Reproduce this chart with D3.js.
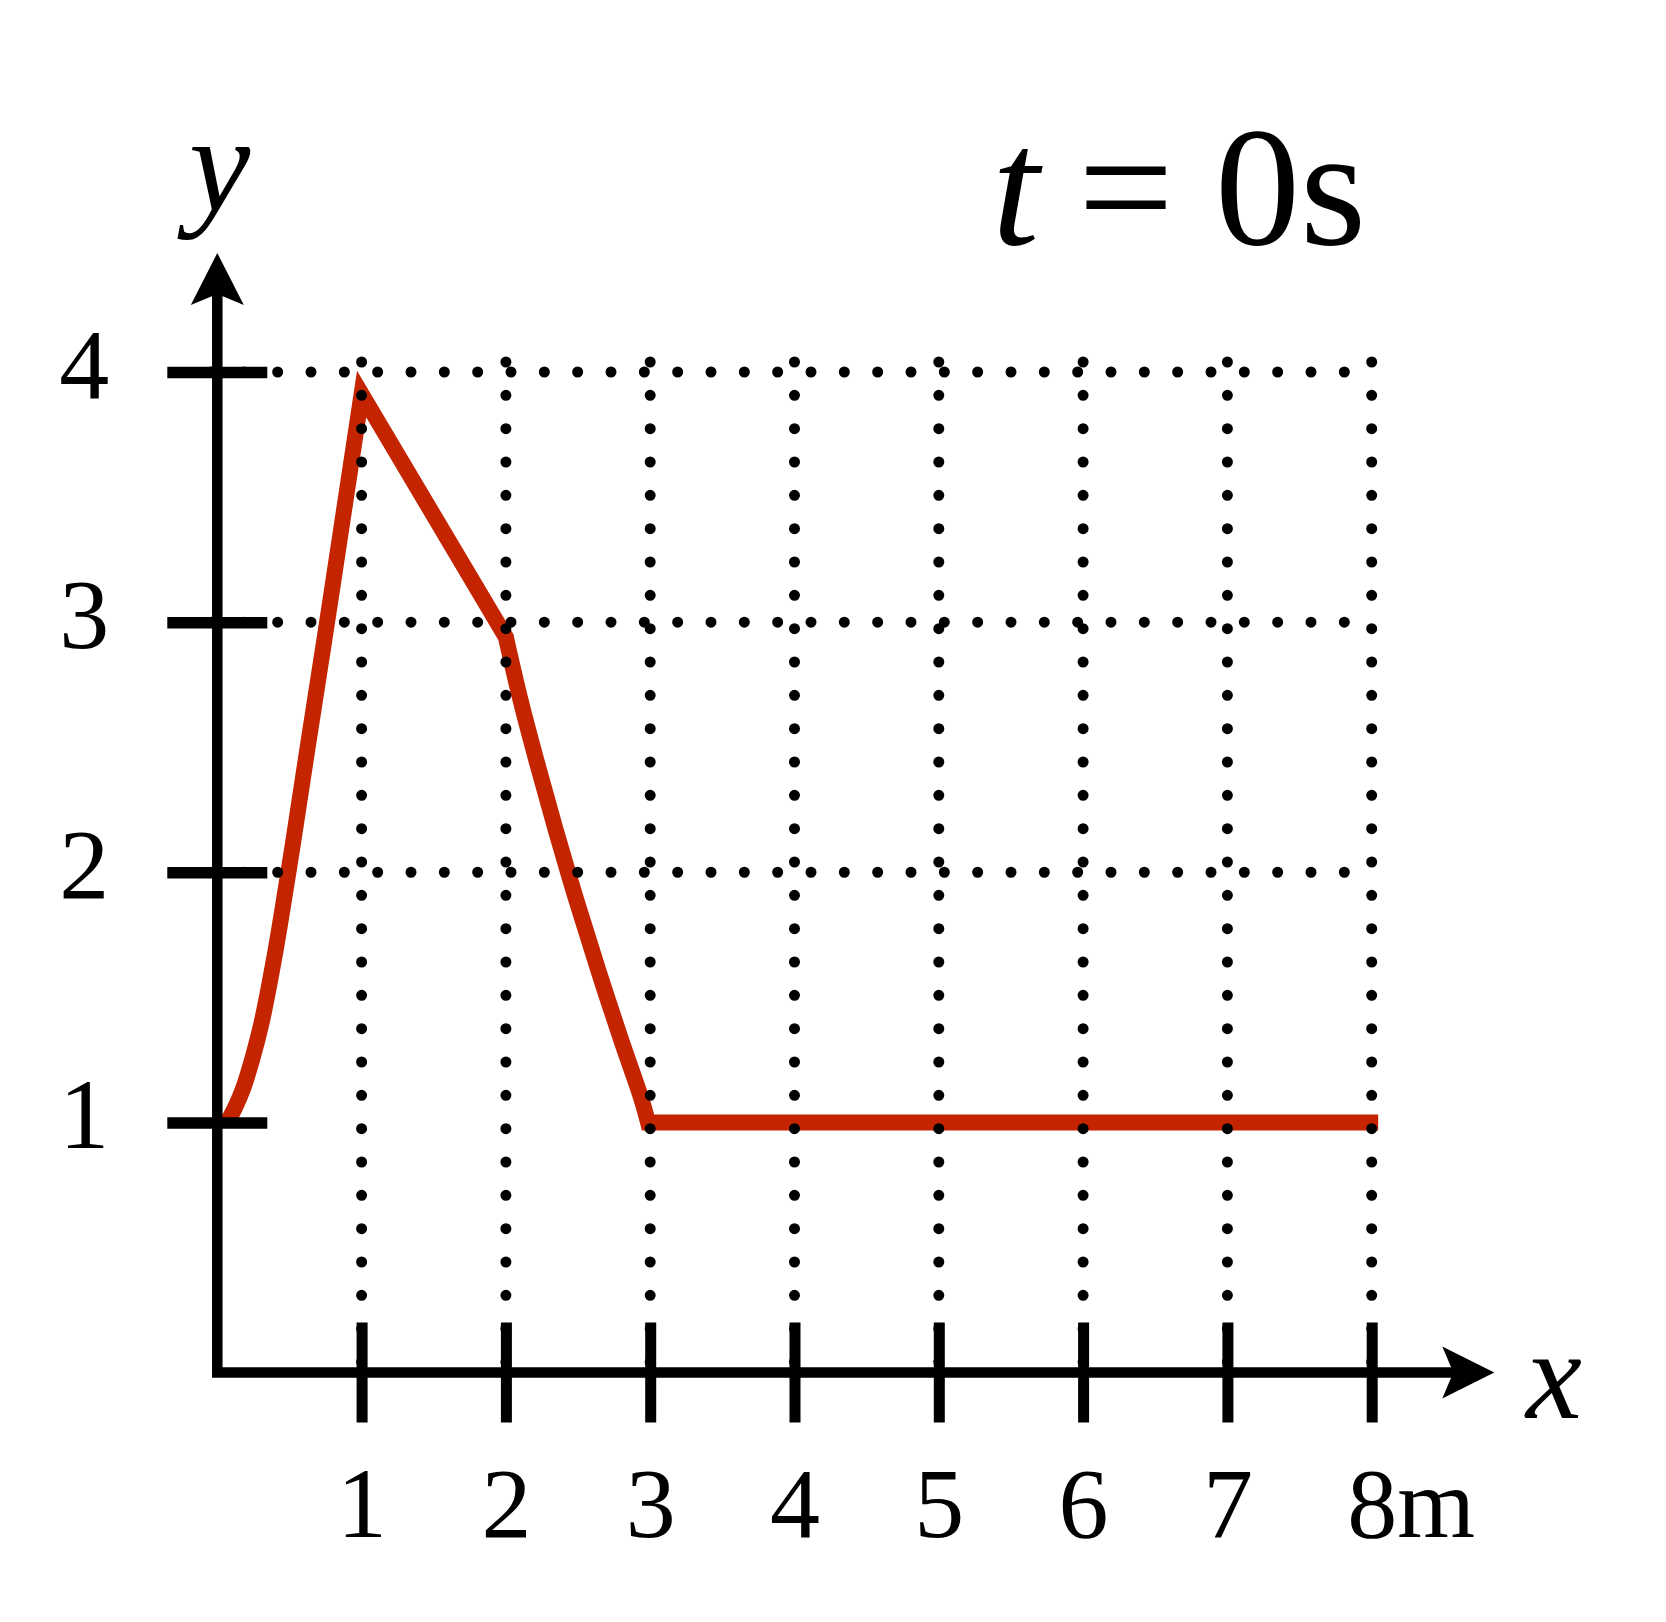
<!DOCTYPE html>
<html>
<head>
<meta charset="utf-8">
<script src="https://cdn.jsdelivr.net/npm/d3@7"></script>
<style>
  html, body { margin: 0; padding: 0; background: #ffffff; }
  svg { display: block; }
  text { font-family: "Liberation Serif", "Times New Roman", serif; fill: #000; }
</style>
</head>
<body>
<svg id="chart" width="1666" height="1622"></svg>
<script>
// ---- data ----
const xTicks = [1, 2, 3, 4, 5, 6, 7, 8];
const xTickLabels = ["1", "2", "3", "4", "5", "6", "7", "8m"];
const yTicks = [1, 2, 3, 4];
const yTickLabels = ["1", "2", "3", "4"];
const gridRows = [2, 3, 4];
const gridCols = [1, 2, 3, 4, 5, 6, 7, 8];
// rising flank (smooth) up to the crest
const riseX = [0.074, 0.126, 0.175, 0.247, 0.306, 0.396, 0.473, 0.528, 0.634, 0.742, 0.847, 0.952, 1.0];
const riseY = [1.005, 1.063, 1.129, 1.263, 1.396, 1.662, 1.929, 2.129, 2.529, 2.929, 3.328, 3.728, 3.912];
// falling flank after the kink down to the foot
const fallX = [2.0, 2.101, 2.216, 2.345, 2.488, 2.640, 2.799, 2.934, 2.985];
const fallY = [2.94, 2.689, 2.437, 2.169, 1.889, 1.609, 1.329, 1.103, 1.0];
// flat tail
const tailX = [2.985, 8.045];
const tailY = [1.0, 1.0];
const titleParts = ["t", "=", "0s"];
const xAxisLabel = "x";
const yAxisLabel = "y";

// ---- scales ----
const svg = d3.select("#chart");
svg.append("rect").attr("width", 1666).attr("height", 1622).attr("fill", "#fff");

const x = d3.scaleLinear().domain([0, 8]).range([217.3, 1371.7]);
const y = d3.scaleLinear().domain([0, 4]).range([1372.5, 372]);

const red = "#c42400";
const dotGap = 33.333;

// ---- red curve ----
const toPts = (xs, ys) => xs.map((v, i) => [v, ys[i]]);
const smooth = d3.line().x(d => x(d[0])).y(d => y(d[1])).curve(d3.curveCatmullRom);
const straight = d3.line().x(d => x(d[0])).y(d => y(d[1]));
const riseD = smooth(toPts(riseX, riseY));
const fallD = smooth(toPts(fallX, fallY));
const tailD = straight(toPts(tailX, tailY));
svg.append("path")
  .attr("d", riseD + "L" + fallD.slice(1) + "L" + tailD.slice(1))
  .attr("fill", "none")
  .attr("stroke", red)
  .attr("stroke-width", 16)
  .attr("stroke-linejoin", "miter")
  .attr("stroke-miterlimit", 10)
  .attr("stroke-linecap", "butt");

// ---- dotted grid ----
const grid = svg.append("g");
grid.selectAll("line.row").data(gridRows).enter().append("line")
  .attr("x1", x(0) - 6.3).attr("x2", x(8))
  .attr("y1", d => y(d)).attr("y2", d => y(d))
  .attr("stroke", "#000").attr("stroke-width", 11)
  .attr("stroke-linecap", "round")
  .attr("stroke-dasharray", `0 ${dotGap}`);
grid.selectAll("line.col").data(gridCols).enter().append("line")
  .attr("x1", d => x(d)).attr("x2", d => x(d))
  .attr("y1", y(4) - 10).attr("y2", y(0))
  .attr("stroke", "#000").attr("stroke-width", 11)
  .attr("stroke-linecap", "round")
  .attr("stroke-dasharray", `0 ${dotGap}`);

// ---- axes lines and arrows ----
const ax = svg.append("g");
ax.append("path")
  .attr("d", `M${x(0)},${y(4) - 85} L${x(0)},${y(0)} L${x(8) + 85},${y(0)}`)
  .attr("fill", "none").attr("stroke", "#000").attr("stroke-width", 10.5)
  .attr("stroke-linejoin", "miter").attr("stroke-linecap", "butt");
// y arrow
const ty = y(4) - 119, tx0 = x(0);
ax.append("path")
  .attr("d", `M${tx0},${ty} L${tx0 + 26.5},${ty + 52} L${tx0},${ty + 41} L${tx0 - 26.5},${ty + 52} Z`)
  .attr("fill", "#000");
// x arrow
const axTip = x(8) + 122.6, ay0 = y(0);
ax.append("path")
  .attr("d", `M${axTip},${ay0} L${axTip - 52},${ay0 - 26} L${axTip - 41},${ay0} L${axTip - 52},${ay0 + 26} Z`)
  .attr("fill", "#000");

// ---- x axis ticks via d3 axis ----
const xAxisG = svg.append("g").attr("transform", `translate(0,${y(0)})`)
  .call(d3.axisBottom(x).tickValues(xTicks).tickSize(0).tickFormat((d, i) => xTickLabels[i]));
xAxisG.select(".domain").remove();
xAxisG.selectAll(".tick line")
  .attr("y1", -50).attr("y2", 50)
  .attr("stroke", "#000").attr("stroke-width", 11);
xAxisG.selectAll(".tick text")
  .attr("text-anchor", "start")
  .attr("x", -25).attr("y", 164).attr("dy", null)
  .style("font-family", "'Liberation Serif', 'Times New Roman', serif")
  .style("font-size", "100px").attr("fill", "#000");

// ---- y axis ticks via d3 axis ----
const yAxisG = svg.append("g").attr("transform", `translate(${x(0)},0)`)
  .call(d3.axisLeft(y).tickValues(yTicks).tickSize(0).tickFormat((d, i) => yTickLabels[i]));
yAxisG.select(".domain").remove();
yAxisG.selectAll(".tick line")
  .attr("x1", -50).attr("x2", 50)
  .attr("stroke", "#000").attr("stroke-width", 11.5);
yAxisG.selectAll(".tick text")
  .attr("text-anchor", "middle")
  .attr("x", -133).attr("y", 25.5).attr("dy", null)
  .style("font-family", "'Liberation Serif', 'Times New Roman', serif")
  .style("font-size", "100px").attr("fill", "#000");

// ---- axis labels ----
svg.append("text").text(yAxisLabel)
  .attr("x", 189).attr("y", 211)
  .style("font-size", "138px").style("font-style", "italic");
svg.append("text").text(xAxisLabel)
  .attr("x", 1526).attr("y", 1418)
  .style("font-size", "126px").style("font-style", "italic");

// ---- title ----
svg.append("text").text(titleParts[0])
  .attr("x", 992).attr("y", 244)
  .style("font-size", "170px").style("font-style", "italic");
svg.append("text").text(titleParts[1])
  .attr("x", 1126).attr("y", 244).attr("text-anchor", "middle")
  .style("font-size", "170px");
svg.append("text").text(titleParts[2])
  .attr("x", 1215).attr("y", 244)
  .style("font-size", "170px");
</script>
</body>
</html>
